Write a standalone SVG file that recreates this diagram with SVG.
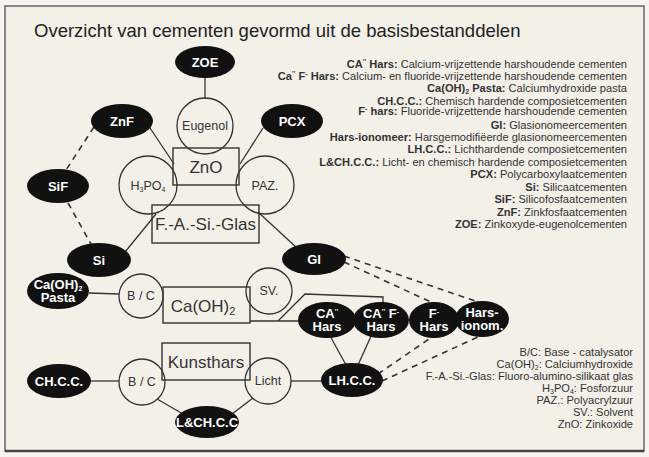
<svg xmlns="http://www.w3.org/2000/svg" width="649" height="457" viewBox="0 0 649 457">
<style>
text{font-family:"Liberation Sans",Arial,sans-serif}
.blk{fill:#111}
.nt{font-weight:bold;font-size:13px;fill:#fff;text-anchor:middle}
.ring{fill:none;stroke:#333;stroke-width:1.3}
.ct{font-size:12.5px;fill:#333;text-anchor:middle}
.box{fill:none;stroke:#333;stroke-width:1.4}
.bt{font-size:17px;fill:#333;text-anchor:middle}
.ln{stroke:#333;stroke-width:1.3;fill:none}
.dash{stroke:#333;stroke-width:1.6;stroke-dasharray:6 5;fill:none}
.lg{font-size:11.1px;fill:#333;text-anchor:end}
.b{font-weight:bold}
.sm{font-size:7px}
</style>
<rect x="0" y="0" width="649" height="457" fill="#f6f4ee"/>
<rect x="5" y="6" width="639" height="445" fill="#f3f0e8" stroke="#666" stroke-width="1.5"/>
<line x1="5" y1="451" x2="644" y2="451" stroke="#444" stroke-width="2.5"/>
<text x="34" y="37" font-size="18.5" fill="#222">Overzicht van cementen gevormd uit de basisbestanddelen</text>

<g id="legend-top" class="lg">
<text x="627" y="68"><tspan class="b">CA<tspan class="sm" dy="-4">''</tspan><tspan dy="4"> Hars:</tspan></tspan> Calcium-vrijzettende harshoudende cementen</text>
<text x="627" y="80"><tspan class="b">Ca<tspan class="sm" dy="-4">''</tspan><tspan dy="4"> F</tspan><tspan class="sm" dy="-4">-</tspan><tspan dy="4"> Hars:</tspan></tspan> Calcium- en fluoride-vrijzettende harshoudende cementen</text>
<text x="627" y="92"><tspan class="b">Ca(OH)<tspan class="sm" dy="2">2</tspan><tspan dy="-2"> Pasta:</tspan></tspan> Calciumhydroxide pasta</text>
<text x="627" y="105"><tspan class="b">CH.C.C.:</tspan> Chemisch hardende composietcementen</text>
<text x="627" y="115"><tspan class="b">F<tspan class="sm" dy="-4">-</tspan><tspan dy="4"> hars:</tspan></tspan> Fluoride-vrijzettende harshoudende cementen</text>
<text x="627" y="129"><tspan class="b">GI:</tspan> Glasionomeercementen</text>
<text x="627" y="141"><tspan class="b">Hars-ionomeer:</tspan> Harsgemodifiëerde glasionomeercementen</text>
<text x="627" y="153"><tspan class="b">LH.C.C.:</tspan> Lichthardende composietcementen</text>
<text x="627" y="166"><tspan class="b">L&amp;CH.C.C.:</tspan> Licht- en chemisch hardende composietcementen</text>
<text x="627" y="178"><tspan class="b">PCX:</tspan> Polycarboxylaatcementen</text>
<text x="627" y="191"><tspan class="b">Si:</tspan> Silicaatcementen</text>
<text x="627" y="203"><tspan class="b">SiF:</tspan> Silicofosfaatcementen</text>
<text x="627" y="216"><tspan class="b">ZnF:</tspan> Zinkfosfaatcementen</text>
<text x="627" y="228"><tspan class="b">ZOE:</tspan> Zinkoxyde-eugenolcementen</text>
</g>

<g id="legend-bottom" class="lg">
<text x="633" y="356">B/C: Base - catalysator</text>
<text x="633" y="368">Ca(OH)<tspan class="sm" dy="2">2</tspan><tspan dy="-2">: Calciumhydroxide</tspan></text>
<text x="633" y="380">F.-A.-Si.-Glas: Fluoro-alumino-silikaat glas</text>
<text x="633" y="392">H<tspan class="sm" dy="2">3</tspan><tspan dy="-2">PO</tspan><tspan class="sm" dy="2">4</tspan><tspan dy="-2">: Fosforzuur</tspan></text>
<text x="633" y="404">PAZ.: Polyacrylzuur</text>
<text x="633" y="416">SV.: Solvent</text>
<text x="633" y="428">ZnO: Zinkoxide</text>
</g>

<g id="connectors">
<line class="ln" x1="205" y1="76" x2="205" y2="99"/>
<line class="ln" x1="150" y1="128" x2="174" y2="164"/>
<line class="ln" x1="263" y1="128" x2="240" y2="164"/>
<line class="dash" x1="94" y1="127" x2="66" y2="170"/>
<line class="dash" x1="68" y1="203" x2="91" y2="244"/>
<line class="ln" x1="125" y1="252" x2="156" y2="214"/>
<line class="ln" x1="258" y1="212" x2="297" y2="248"/>
<line class="ln" x1="89" y1="293" x2="119" y2="294"/>
<line class="ln" x1="250" y1="321" x2="300" y2="321"/>
<polyline class="ln" points="278,321 305,294 383,297 383,304"/>
<line class="ln" x1="329" y1="334" x2="346" y2="365"/>
<line class="ln" x1="372" y1="334" x2="358" y2="365"/>
<line class="ln" x1="291" y1="381" x2="322" y2="381"/>
<line class="ln" x1="91" y1="381" x2="119" y2="381"/>
<line class="ln" x1="157" y1="399" x2="183" y2="414"/>
<line class="ln" x1="253" y1="398" x2="232" y2="414"/>
<line class="dash" x1="344" y1="262" x2="433" y2="303"/>
<line class="dash" x1="344" y1="256" x2="478" y2="302"/>
<line class="dash" x1="378" y1="374" x2="432" y2="337"/>
<line class="dash" x1="382" y1="381" x2="480" y2="336"/>
</g>

<g id="ZOE"><ellipse class="blk" cx="205" cy="62" rx="30" ry="16"/><text class="nt" x="205" y="67">ZOE</text></g>
<g id="Eugenol"><circle class="ring" cx="205" cy="126" r="28"/><text class="ct" x="205" y="130">Eugenol</text></g>
<g id="ZnO"><rect class="box" x="173" y="148" width="66" height="37"/><text class="bt" x="206" y="173">ZnO</text></g>
<g id="H3PO4"><circle class="ring" cx="148" cy="185" r="29"/><text class="ct" x="148" y="190">H<tspan class="sm" dy="2">3</tspan><tspan dy="-2">PO</tspan><tspan class="sm" dy="2">4</tspan></text></g>
<g id="PAZ"><circle class="ring" cx="265" cy="185" r="29"/><text class="ct" x="265" y="190">PAZ.</text></g>
<g id="ZnF"><ellipse class="blk" cx="122" cy="121" rx="31" ry="17"/><text class="nt" x="122" y="126">ZnF</text></g>
<g id="PCX"><ellipse class="blk" cx="292" cy="121" rx="31" ry="17"/><text class="nt" x="292" y="126">PCX</text></g>
<g id="SiF"><ellipse class="blk" cx="58" cy="186" rx="31" ry="17"/><text class="nt" x="58" y="191">SiF</text></g>
<g id="FASiGlas"><rect class="box" x="152" y="205" width="107" height="38"/><text class="bt" x="205.5" y="230" font-size="16">F.-A.-Si.-Glas</text></g>
<g id="Si"><ellipse class="blk" cx="99" cy="260" rx="32" ry="17"/><text class="nt" x="99" y="265">Si</text></g>
<g id="GI"><ellipse class="blk" cx="314" cy="259" rx="32" ry="16"/><text class="nt" x="314" y="264">GI</text></g>
<g id="CaOH2Pasta"><ellipse class="blk" cx="58" cy="291" rx="31" ry="18"/><text class="nt" x="58" y="289">Ca(OH)<tspan class="sm" dy="2">2</tspan></text><text class="nt" x="58" y="302">Pasta</text></g>
<g id="BC1"><circle class="ring" cx="141" cy="296" r="22"/><text class="ct" x="141" y="300">B / C</text></g>
<g id="CaOH2"><rect class="box" x="163" y="287" width="87" height="36"/><text class="bt" x="203" y="312">Ca(OH)<tspan font-size="11" dy="3">2</tspan></text></g>
<g id="SV"><circle class="ring" cx="269" cy="291" r="23"/><text class="ct" x="269" y="295">SV.</text></g>
<g id="CAHars"><ellipse class="blk" cx="327" cy="320" rx="29" ry="18"/><text class="nt" x="327" y="318">CA<tspan class="sm" dy="-4">''</tspan></text><text class="nt" x="327" y="331">Hars</text></g>
<g id="CAFHars"><ellipse class="blk" cx="381" cy="320" rx="28" ry="18"/><text class="nt" x="381" y="318">CA<tspan class="sm" dy="-4">''</tspan><tspan dy="4"> F</tspan><tspan class="sm" dy="-4">-</tspan></text><text class="nt" x="381" y="331">Hars</text></g>
<g id="FHars"><ellipse class="blk" cx="434" cy="320" rx="25" ry="18"/><text class="nt" x="434" y="318">F<tspan class="sm" dy="-4">-</tspan></text><text class="nt" x="434" y="331">Hars</text></g>
<g id="HarsIonom"><ellipse class="blk" cx="482" cy="319" rx="27" ry="18"/><text class="nt" x="482" y="317">Hars-</text><text class="nt" x="482" y="330">ionom.</text></g>
<g id="Kunsthars"><rect class="box" x="162" y="343" width="88" height="37"/><text class="bt" x="206" y="368">Kunsthars</text></g>
<g id="BC2"><circle class="ring" cx="142" cy="382" r="23"/><text class="ct" x="142" y="386">B / C</text></g>
<g id="Licht"><circle class="ring" cx="268" cy="381" r="23"/><text class="ct" x="268" y="385">Licht</text></g>
<g id="CHCC"><ellipse class="blk" cx="59" cy="381" rx="32" ry="17"/><text class="nt" x="59" y="386">CH.C.C.</text></g>
<g id="LHCC"><ellipse class="blk" cx="352" cy="380" rx="31" ry="17"/><text class="nt" x="352" y="385">LH.C.C.</text></g>
<g id="LCHCC"><ellipse class="blk" cx="207" cy="422" rx="32" ry="16"/><text class="nt" x="207" y="427" font-size="12.5">L&amp;CH.C.C</text></g>
</svg>
